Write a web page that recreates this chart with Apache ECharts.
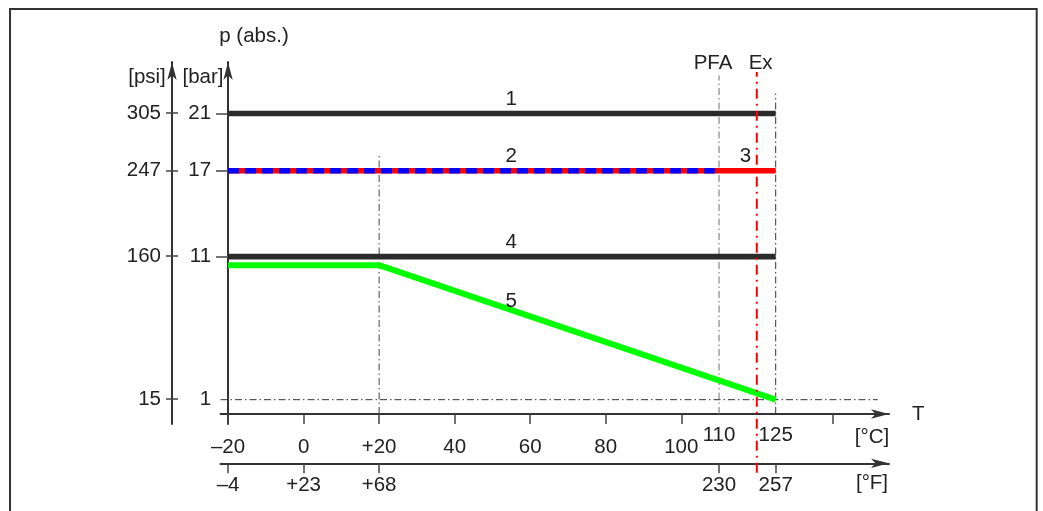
<!DOCTYPE html>
<html>
<head>
<meta charset="utf-8">
<script src="https://cdn.jsdelivr.net/npm/echarts@6/dist/echarts.min.js"></script>
<style>
html,body{margin:0;padding:0;background:#fff;}
#chart{width:1043px;height:511px;}
</style>
</head>
<body>
<div id="chart"></div>
<script>
// ---- data ----
const barTicks = [21, 17, 11, 1];
const barTickMarks = [21, 17, 11];
const psiTicks = [305, 247, 160, 15];
const celsiusTicks = [-20, 0, 20, 40, 60, 80, 100];
const celsiusLabels = ['–20', '0', '+20', '40', '60', '80', '100'];
const celsiusRaisedTicks = [110, 125];
const celsiusRaisedLabels = ['110', '125'];
const celsiusExtraTicks = [140];
const fahrenheitPosC = [-20, 0, 20, 110, 125];
const fahrenheitLabels = ['–4', '+23', '+68', '230', '257'];

const line1 = [[-20, 21], [125, 21]];
const line2 = [[-20, 17], [110, 17]];
const line3 = [[110, 17], [125, 17]];
const line4 = [[-20, 11], [125, 11]];
const line5 = [[-20, 10.4], [20, 10.4], [125, 1]];

const guide20 = [[20, 0], [20, 18.2]];
const guidePFA = [[110, 0], [110, 23.65]];
const guide125 = [[125, 0], [125, 22.4]];
const guideEx = [[120, -4.1], [120, 23.9]];
const guide1bar = [[-22, 1], [152, 1]];

const lineNames = ['1', '2', '3', '4', '5'];
const lineNameX = [55, 55, 117, 55, 55];
const lineNameY = [21, 17, 17, 11, 6.9];
const markNames = ['PFA', 'Ex'];
const markNameX = [108.4, 121];
const markNameY = [24.5, 24.5];

const PSI_PER_BAR = 14.5038;
const xMin = -22, xMax = 155;
const yMin = -0.7, yMax = 24.6;

// ---- chart ----
const FONT = 'Liberation Sans, Arial, Helvetica, sans-serif';
const TXT = '#222';
const AX = '#333';
const FS = 20.5;
const txt = {fontFamily: FONT, fontSize: FS, color: TXT};

const chart = echarts.init(document.getElementById('chart'), null, {renderer: 'canvas'});

function lineSeries(data, color, width, type, z) {
  return {type: 'line', data: data, symbol: 'none', silent: true, clip: false, z: z || 2,
    lineStyle: {color: color, width: width, type: type || 'solid', cap: 'butt'}, animation: false};
}
const dashDot = [7, 3, 1.5, 3];

const option = {
  animation: false,
  grid: {left: 220.5, right: 154, top: 62, bottom: 87, containLabel: false},
  xAxis: [
    {type: 'value', min: xMin, max: xMax, position: 'bottom',
      axisLine: {show: true, onZero: true, lineStyle: {color: AX, width: 2}, symbol: ['none', 'arrow'], symbolSize: [7, 18]},
      name: 'T', nameLocation: 'end', nameGap: 23, nameTextStyle: txt,
      axisTick: {show: true, length: 10, lineStyle: {color: '#444', width: 1.5}, customValues: celsiusTicks.concat(celsiusExtraTicks)},
      axisLabel: Object.assign({show: true, margin: 13, customValues: celsiusTicks,
        formatter: v => celsiusLabels[celsiusTicks.indexOf(v)]}, txt),
      splitLine: {show: false}},
    {type: 'value', min: xMin, max: xMax, position: 'bottom', offset: 39.3,
      axisLine: {show: true, onZero: false, lineStyle: {color: AX, width: 2}, symbol: ['none', 'arrow'], symbolSize: [7, 18]},
      axisTick: {show: true, length: 10, lineStyle: {color: '#444', width: 1.5}, customValues: fahrenheitPosC},
      axisLabel: Object.assign({show: true, margin: 12, customValues: fahrenheitPosC,
        formatter: v => fahrenheitLabels[fahrenheitPosC.indexOf(v)]}, txt),
      splitLine: {show: false}},
    {type: 'value', min: xMin, max: xMax, position: 'bottom',
      axisLine: {show: false, onZero: true},
      axisTick: {show: false},
      axisLabel: Object.assign({show: true, margin: 0.5, customValues: celsiusRaisedTicks,
        formatter: v => celsiusRaisedLabels[celsiusRaisedTicks.indexOf(v)]}, txt),
      splitLine: {show: false}}
  ],
  yAxis: [
    {type: 'value', min: yMin, max: yMax, position: 'left', offset: -7.55,
      axisLine: {show: true, onZero: false, lineStyle: {color: AX, width: 2}, symbol: ['none', 'arrow'], symbolSize: [7, 18]},
      axisTick: {show: true, length: 12, lineStyle: {color: '#444', width: 1.5}, customValues: barTickMarks},
      axisLabel: Object.assign({show: true, margin: 17, customValues: barTicks}, txt),
      splitLine: {show: false}},
    {type: 'value', min: yMin * PSI_PER_BAR, max: yMax * PSI_PER_BAR, position: 'left', offset: 48.5,
      axisLine: {show: true, onZero: false, lineStyle: {color: AX, width: 2}, symbol: ['none', 'arrow'], symbolSize: [7, 18]},
      axisTick: {show: true, length: 6, lineStyle: {color: '#444', width: 1.5}, customValues: psiTicks},
      axisLabel: Object.assign({show: true, margin: 11, customValues: psiTicks}, txt),
      splitLine: {show: false}},
    {type: 'value', min: yMin * PSI_PER_BAR, max: yMax * PSI_PER_BAR, position: 'left', offset: 48.5,
      axisLine: {show: false, onZero: false},
      axisTick: {show: true, inside: true, length: 6, lineStyle: {color: '#444', width: 1.5}, customValues: psiTicks},
      axisLabel: {show: false},
      splitLine: {show: false}}
  ],
  graphic: [
    {type: 'rect', shape: {x: 10, y: 9, width: 1026.7, height: 600}, style: {fill: 'none', stroke: '#333', lineWidth: 2}, z: 0},
    {type: 'text', x: 254, y: 36, style: {text: 'p (abs.)', align: 'center', verticalAlign: 'middle', fill: TXT, font: FS + 'px ' + FONT}},
    {type: 'text', x: 147, y: 77, style: {text: '[psi]', align: 'center', verticalAlign: 'middle', fill: TXT, font: FS + 'px ' + FONT}},
    {type: 'text', x: 203, y: 77, style: {text: '[bar]', align: 'center', verticalAlign: 'middle', fill: TXT, font: FS + 'px ' + FONT}},
    {type: 'text', x: 872, y: 437, style: {text: '[°C]', align: 'center', verticalAlign: 'middle', fill: TXT, font: FS + 'px ' + FONT}},
    {type: 'text', x: 872, y: 483, style: {text: '[°F]', align: 'center', verticalAlign: 'middle', fill: TXT, font: FS + 'px ' + FONT}}
  ],
  series: [
    lineSeries(guidePFA, '#888', 1.2, dashDot, 1),
    lineSeries(guide20, '#444', 1, dashDot, 1),
    lineSeries(guide125, '#333', 1, dashDot, 1),
    lineSeries(guide1bar, '#333', 1, dashDot, 1),
    lineSeries(line1, '#2b2b2b', 5.7),
    lineSeries(line2, '#ff0000', 5.7),
    lineSeries(line2, '#0000ff', 5.7, [11, 6]),
    lineSeries(line3, '#ff0000', 5.7),
    lineSeries(line4, '#2b2b2b', 5.7),
    lineSeries(line5, '#00ff00', 6),
    lineSeries(guideEx, '#ff0000', 2, [10, 5, 2, 5], 5),
    {type: 'scatter', symbolSize: 0, silent: true, z: 6, animation: false,
      itemStyle: {opacity: 1},
      data: lineNames.map((n, i) => ({name: n, value: [lineNameX[i], lineNameY[i]]})).concat(
        markNames.map((n, i) => ({name: n, value: [markNameX[i], markNameY[i]], label: {offset: [0, 0]}}))),
      label: Object.assign({show: true, position: 'inside', offset: [0, -14], opacity: 1, formatter: p => p.name}, txt)}
  ]
};
chart.setOption(option);
</script>
</body>
</html>
